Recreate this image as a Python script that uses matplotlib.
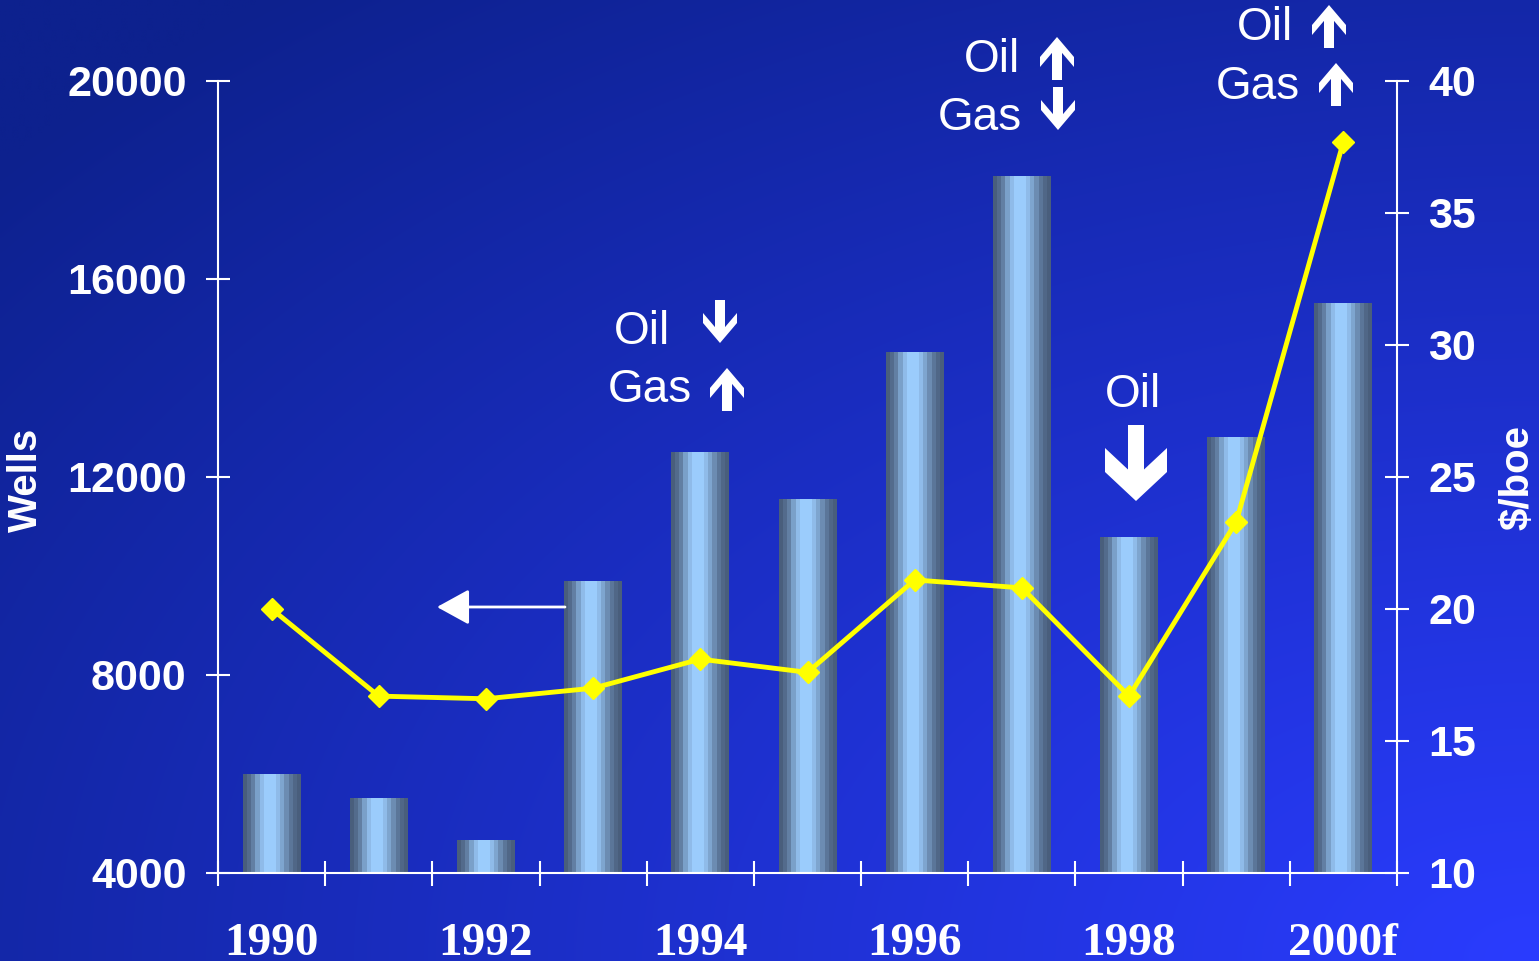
import numpy as np
import matplotlib
matplotlib.use('Agg')
import matplotlib.pyplot as plt
from matplotlib.patches import Polygon

# ---------------- data ----------------
years = ['1990', '1991', '1992', '1993', '1994', '1995', '1996', '1997', '1998', '1999', '2000f']
wells = [6000, 5500, 4650, 9880, 12500, 11550, 14520, 18080, 10770, 12790, 15500]
price = [20.0, 16.7, 16.6, 17.0, 18.1, 17.6, 21.1, 20.8, 16.7, 23.3, 37.7]
xtick_labels = ['1990', '', '1992', '', '1994', '', '1996', '', '1998', '', '2000f']
left_ticks = [4000, 8000, 12000, 16000, 20000]
right_ticks = [10, 15, 20, 25, 30, 35, 40]

W, H = 1539, 961
fig = plt.figure(figsize=(W / 100, H / 100), dpi=100)

# ---------------- background gradient ----------------
bg = fig.add_axes([0, 0, 1, 1], zorder=-10)
yy, xx = np.mgrid[0:1:300j, 0:1:480j]
d = np.sqrt((1 - xx) ** 2 + (1 - yy) ** 2)
f = np.clip(1 - d / 1.3, 0, 1)
dark = np.array([13, 33, 142]) / 255
bright = np.array([42, 60, 255]) / 255
img = dark + (bright - dark) * f[..., None]
bg.imshow(img, extent=[0, 1, 0, 1], origin='upper', aspect='auto', interpolation='bilinear')
bg.set_xlim(0, 1); bg.set_ylim(0, 1)
bg.axis('off')

# ---------------- main axes ----------------
ax = fig.add_axes([218 / W, (H - 873) / H, (1397 - 218) / W, (873 - 81) / H])
ax.patch.set_alpha(0)
x = np.arange(len(years))
bars = ax.bar(x, wells, width=0.54, color='none', edgecolor='none')
ax.set_xlim(-0.5, len(years) - 0.5)
ax.set_ylim(4000, 20000)

# cylindrical stepped gradient for bars
prof = np.array([0, 0.12, 0.3, 0.6, 0.85, 1, 1, 1, 0.85, 0.65, 0.42, 0.22, 0.08, 0])
c_dark = np.array([0.29, 0.37, 0.49])
c_light = np.array([0.61, 0.80, 0.99])
grad = (c_dark + (c_light - c_dark) * prof[:, None])[None, :, :]
for p in bars:
    x0 = p.get_x(); w = p.get_width(); h = p.get_height()
    ax.imshow(grad, extent=[x0, x0 + w, 4000, h], aspect='auto',
              interpolation='nearest', zorder=2)
ax.set_xlim(-0.5, len(years) - 0.5)
ax.set_ylim(4000, 20000)
ax.set_aspect('auto')

tick_font = dict(family='Liberation Sans', weight='bold', size=31)
ax.set_yticks(left_ticks)
ax.set_yticklabels([str(v) for v in left_ticks], color='white', fontdict=tick_font)
ax.tick_params(axis='y', direction='inout', length=17, width=1.5, colors='white', pad=14)
ax.set_xticks(x)
ax.set_xticklabels(xtick_labels, color='white', family='Liberation Serif', weight='bold', size=34)
ax.tick_params(axis='x', which='major', length=0, pad=36, colors='white')
ax.set_xticks(np.arange(-0.5, len(years), 1), minor=True)
ax.tick_params(axis='x', which='minor', direction='inout', length=18, width=1.5, color='white')

for s in ['top', 'right']:
    ax.spines[s].set_visible(False)
for s in ['left', 'bottom']:
    ax.spines[s].set_color('white')
    ax.spines[s].set_linewidth(1.5)

# ---------------- price line (right axis) ----------------
ax2 = ax.twinx()
ax2.plot(x, price, color='#ffff00', lw=3.5, marker='D', ms=11, zorder=5, clip_on=False)
ax2.set_ylim(10, 40)
ax2.set_yticks(right_ticks)
ax2.set_yticklabels([str(v) for v in right_ticks], color='white', fontdict=tick_font)
ax2.tick_params(axis='y', direction='inout', length=17, width=1.5, colors='white', pad=14)
for s in ['top', 'left', 'bottom']:
    ax2.spines[s].set_visible(False)
ax2.spines['right'].set_color('white')
ax2.spines['right'].set_linewidth(1.5)

# ---------------- axis titles ----------------
fig.text(26 / W, 1 - 480 / H, 'Wells', rotation=90, ha='center', va='center',
         color='white', family='Liberation Sans', weight='bold', size=29)
fig.text(1518 / W, 1 - 478 / H, r'\$/boe', rotation=90, ha='center', va='center',
         color='white', family='Liberation Sans', weight='bold', size=29)

# ---------------- annotations ----------------
def chevron(cx, tip_y, L, Wd, s, hb, t, up):
    half = Wd / 2.0
    slope = hb / half
    inner = hb + t - (half - s / 2.0) * slope
    rel = [(0, 0), (half, hb), (half, hb + t), (s / 2, inner), (s / 2, L),
           (-s / 2, L), (-s / 2, inner), (-half, hb + t), (-half, hb)]
    pts = []
    for dx, back in rel:
        yimg = tip_y + back if up else tip_y - back
        pts.append(((cx + dx) / W, 1 - yimg / H))
    fig.patches.append(Polygon(pts, closed=True, facecolor='white', edgecolor='none',
                               transform=fig.transFigure, figure=fig))

def small(cx, tip_y, up):
    chevron(cx, tip_y, 43, 34, 10, 20, 10, up)

def label(xr, base, s, ha='right'):
    fig.text(xr / W, 1 - base / H, s, ha=ha, va='baseline', color='white',
             family='Liberation Sans', size=33)

# 1994
label(670, 344, 'Oil'); small(720, 343, up=False)
label(692, 402, 'Gas'); small(727, 368, up=True)
# 1997
label(1020, 72, 'Oil'); small(1057, 37, up=True)
label(1022, 130, 'Gas'); small(1058, 130, up=False)
# 2000
label(1293, 40, 'Oil'); small(1329, 5, up=True)
label(1300, 99, 'Gas'); small(1336, 63, up=True)
# 1998
label(1133, 407, 'Oil', ha='center')
chevron(1136, 501, 76, 62, 16, 29, 24, up=False)

# left-pointing arrow
fig.patches.append(matplotlib.patches.FancyArrowPatch(
    (565 / W, 1 - 607 / H), (437 / W, 1 - 607 / H), transform=fig.transFigure,
    arrowstyle='-|>,head_length=1.0,head_width=0.55', mutation_scale=20,
    color='white', lw=2, shrinkA=0, shrinkB=0, figure=fig))

fig.savefig('out.png', dpi=100)
